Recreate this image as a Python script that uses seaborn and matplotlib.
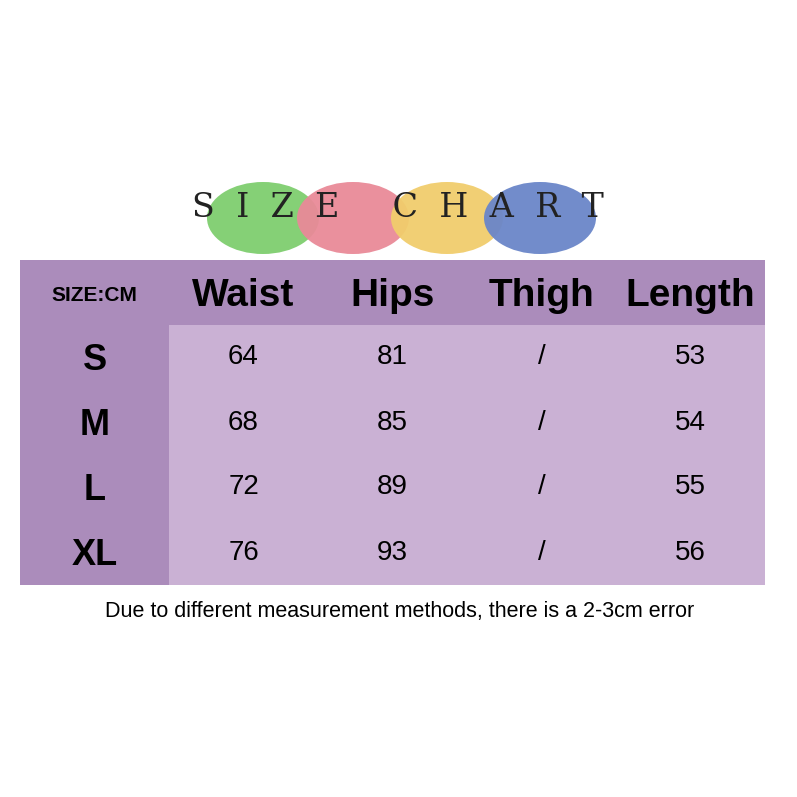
import numpy as np
import pandas as pd
import matplotlib
matplotlib.use('Agg')
import matplotlib.pyplot as plt
from matplotlib.colors import ListedColormap
from matplotlib.patches import Ellipse
import seaborn as sns

# data
columns = ['SIZE:CM', 'Waist', 'Hips', 'Thigh', 'Length']
sizes = ['S', 'M', 'L', 'XL']
waist = [64, 68, 72, 76]
hips = [81, 85, 89, 93]
thigh = ['/', '/', '/', '/']
length = [53, 54, 55, 56]
note = 'Due to different measurement methods, there is a 2-3cm error'

DARK = '#ab8cbb'
LIGHT = '#cab1d4'

sns.set_theme(style='white')
plt.rcParams['font.family'] = ['Liberation Sans', 'DejaVu Sans']

W = H = 797
fig = plt.figure(figsize=(W / 100, H / 100), dpi=100)
fig.patch.set_facecolor('white')

def px_axes(x0, y0, x1, y1):
    return fig.add_axes([x0 / W, 1 - y1 / H, (x1 - x0) / W, (y1 - y0) / H])

# title circles
tax = px_axes(0, 160, W, 260)
tax.set_xlim(0, W)
tax.set_ylim(260, 160)
tax.axis('off')
for cx, col in zip([263, 353, 447, 540], ['#7fce6f', '#e98a98', '#f1cd6c', '#6a86c9']):
    tax.add_patch(Ellipse((cx, 218), 112, 72, color=col, alpha=0.95, lw=0))
tax.text(398, 208, 'S  I  Z  E     C  H  A  R  T', ha='center', va='center',
         fontsize=24, color='#222222', family='DejaVu Serif')

# table
grid = np.ones((5, 5))
grid[0, :] = 0
grid[:, 0] = 0
ax = px_axes(20, 260, 765, 585)
sns.heatmap(pd.DataFrame(grid), ax=ax, cmap=ListedColormap([DARK, LIGHT]),
            cbar=False, xticklabels=False, yticklabels=False, linewidths=0)
ax.axis('off')

for j, c in enumerate(columns):
    ax.text(j + 0.5, 0.55, c, ha='center', va='center', fontweight='bold',
            fontsize=15 if j == 0 else 28, color='black')
body = [waist, hips, thigh, length]
for i, s in enumerate(sizes):
    ax.text(0.5, i + 1.55, s, ha='center', va='center', fontweight='bold',
            fontsize=26, color='black')
    for j, vals in enumerate(body):
        ax.text(j + 1.5, i + 1.5, str(vals[i]), ha='center', va='center',
                fontsize=20, color='black')

fig.text(400 / W, 1 - 611 / H, note, ha='center', va='center', fontsize=15.5, color='black')

fig.savefig('out.png', dpi=100, facecolor='white')
